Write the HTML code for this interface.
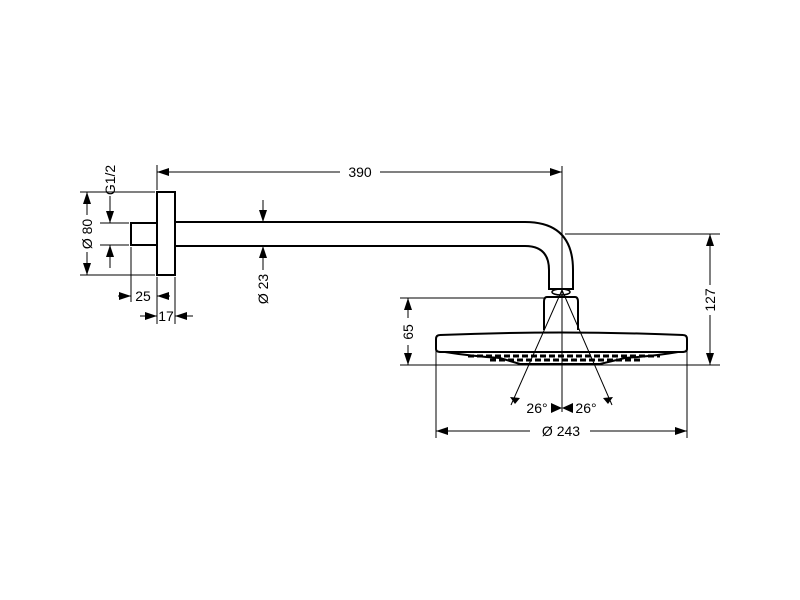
<!DOCTYPE html>
<html><head><style>body{margin:0;background:#fff}svg{display:block}text{font-family:"Liberation Sans",sans-serif;font-size:14px;fill:#000}</style></head><body>
<svg width="800" height="600" viewBox="0 0 800 600" xmlns="http://www.w3.org/2000/svg">
<g fill="none" stroke="#000">
<g stroke-width="2">
<rect x="157" y="192" width="18" height="83" fill="#fff"/>
<path d="M157,223H131V245H157"/>
<path d="M175,222H525Q573,222 573,270V281"/>
<path d="M175,246H525Q549,246 549,270V281"/>
<path d="M549,281V289H573V281"/>
<path d="M547,297Q544,297 544,302V330M578,330V302Q578,297 575,297H547"/>
<path d="M436,339Q436,335 440,335Q560,330 683,335Q687,335 687,339V349Q687,352 682,352H441Q436,352 436,349Z"/>
<path d="M445,352Q470,356 500,358L520,364H600L625,358Q655,356 678,352"/>
</g>
<ellipse cx="561" cy="292" rx="9" ry="3" stroke-width="1.5"/>
<g stroke-width="3" stroke-dasharray="6 3"><path d="M468,356H660M490,360H640"/></g>
<g stroke-width="1">
<path d="M562,166V412"/>
<path d="M157,165V190M131,247V302M157,277V324M175,277V324"/>
<path d="M80,192H155M80,275H155M100,223H129M100,245H129"/>
<path d="M565,234H720M400,298H545M400,365H720"/>
<path d="M436,342V438M687,342V438"/>
<path d="M562,290L511,405M562,290L612,405"/>
<path d="M157,172H340M380,172H562" />
<path d="M87,192V215M87,252V275M110,200V223M110,245V268M110,196V205"/>
<path d="M263,200V222M263,246V270M408,298V318M408,345V365M710,234V285M710,315V365"/>
<path d="M436,431H530M590,431H687"/>
<path d="M118,296H131M157,296H170M140,316H157M175,316H193"/>
</g>
</g>
<g fill="#000">
<path d="M157,172l12,-4v8zM562,172l-12,-4v8z"/>
<path d="M87,192l-4,12h8zM87,275l-4,-12h8z"/>
<path d="M110,223l-4,-12h8zM110,245l-4,12h8z"/>
<path d="M263,222l-4,-12h8zM263,246l-4,12h8z"/>
<path d="M131,296l-12,-4v8zM157,296l12,-4v8zM157,316l-12,-4v8zM175,316l12,-4v8z"/>
<path d="M408,298l-4,12h8zM408,365l-4,-12h8z"/>
<path d="M710,234l-4,12h8zM710,365l-4,-12h8z"/>
<path d="M436,431l12,-4v8zM687,431l-12,-4v8z"/>
<path d="M562,408l-11,-5v10zM562,408l11,-5v10z"/>
<path d="M515,404l-5,-7l10,1zM608,404l5,-7l-10,1z"/>
</g>
<text x="360" y="177" text-anchor="middle">390</text>
<text x="143" y="301" text-anchor="middle">25</text>
<text x="166" y="321" text-anchor="middle">17</text>
<text x="561" y="436" text-anchor="middle">Ø 243</text>
<text x="537" y="413" text-anchor="middle">26°</text>
<text x="586" y="413" text-anchor="middle">26°</text>
<text transform="translate(92,234) rotate(-90)" text-anchor="middle">Ø 80</text>
<text transform="translate(115,180) rotate(-90)" text-anchor="middle">G1/2</text>
<text transform="translate(268,289) rotate(-90)" text-anchor="middle">Ø 23</text>
<text transform="translate(413,332) rotate(-90)" text-anchor="middle">65</text>
<text transform="translate(715,300) rotate(-90)" text-anchor="middle">127</text>
</svg>
</body></html>
